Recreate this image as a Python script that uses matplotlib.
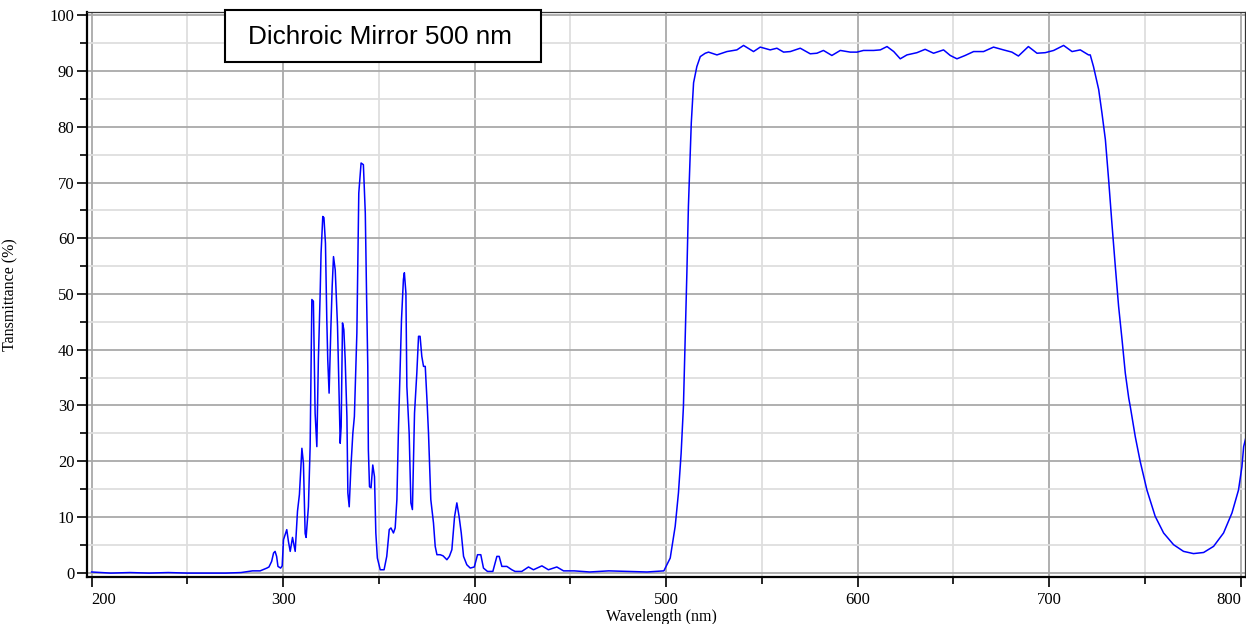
import numpy as np
import matplotlib
matplotlib.use('Agg')
import matplotlib.pyplot as plt
from matplotlib.patches import Rectangle
from matplotlib.ticker import MultipleLocator

# spectrum (wavelength nm, transmittance %)
wavelength = [200, 210, 220, 230, 240, 250, 260, 270, 278, 284, 288, 291.5, 292.6, 294, 295, 295.8,
              296.6, 297.3, 298.7, 299.5, 300.2, 301.9, 302.8, 303.7, 304.9, 306.3, 307.5, 308.5,
              309.8, 310.6, 311.5, 312, 313.2, 314.1, 315, 315.8, 316.7, 317.6, 318.4, 319.3, 319.8,
              320.7, 321.3, 322.1, 322.8, 323.3, 324, 324.9, 325.6, 326.3, 327.2, 328.4, 329.1,
              329.8, 330.3, 331, 331.7, 332.4, 333.3, 333.8, 334.5, 335.4, 336.4, 337.2, 338.5,
              339.5, 340.7, 341.9, 342.9, 343.6, 344.2, 344.5, 345.1, 345.9, 346.8, 347.7, 348.4,
              349.2, 350.7, 352.7, 354.1, 355.4, 356.3, 357.6, 358.5, 359.4, 360.2, 361.1, 361.8,
              362.8, 363.3, 364.1, 364.6, 365.8, 366.7, 367.5, 368.6, 369.8, 370.7, 371.5, 372.4,
              373.3, 374.2, 375.1, 375.9, 377.1, 378.5, 379.4, 380.3, 382, 383.5, 385.5, 386.8,
              388.1, 389.5, 390.7, 391.9, 393, 394.2, 395.9, 397.7, 399.8, 401.5, 403.2, 404.6,
              406.7, 409.5, 411.6, 412.8, 414.2, 416.8, 419.4, 421.1, 424.6, 428.1, 430.7, 435.1,
              438.5, 442.9, 446.4, 452, 460, 470, 480, 490, 498.8, 499.5, 502.1, 504.7, 506.4,
              507.8, 509, 509.9, 510.8, 511.6, 512.2, 513.1, 514.3, 516, 517.8, 520.4, 522.1,
              526.5, 531.7, 536.9, 540.4, 545.6, 549.1, 554.3, 557.8, 561.3, 564.8, 570, 575.2,
              578.7, 582.1, 586.5, 590.9, 596.1, 599.6, 603, 608.3, 611.8, 615.3, 618.8, 622.2,
              625.7, 630.9, 635.2, 639.6, 644.8, 648.3, 651.8, 656.1, 660.5, 665.7, 670.9, 676.1,
              680.5, 683.9, 689.1, 693.6, 697.9, 702.3, 707.5, 711.9, 716.2, 720.5, 721.4, 723.1,
              725.8, 727.5, 729.3, 731, 732.7, 734.5, 736.2, 738, 739.7, 741.5, 742.3, 744.9,
              747.5, 751, 755.3, 759.7, 764.9, 770.1, 775.3, 780.6, 785.8, 791, 795.4, 798.8,
              800.6, 801.5, 802.5]
transmittance = [0.1, -0.1, 0.0, -0.1, 0.0, -0.1, -0.1, -0.1, 0.0, 0.3, 0.3, 0.8, 1.0, 2.0, 3.5, 3.8,
                 2.9, 1.1, 0.8, 1.2, 5.9, 7.7, 5.5, 3.8, 6.3, 3.8, 11, 14,
                 22.3, 19.6, 7, 6.3, 11.8, 22.6, 49, 48.7, 28.6, 22.6, 38.2, 49.6, 57.3,
                 63.9, 63.7, 59.1, 45.4, 38.2, 32.2, 43.6, 51.3, 56.7, 54.3, 44.2, 34,
                 23.2, 26.2, 44.8, 43.6, 38.2, 28, 14.3, 11.8, 19, 25, 28, 43,
                 68.1, 73.5, 73.2, 64.5, 49, 37, 22, 15.4, 15.2, 19.3, 17.2, 7.1,
                 2.6, 0.5, 0.5, 2.9, 7.7, 8, 7.1, 8, 13.1, 25.6, 37, 45.4,
                 52.6, 53.8, 50.2, 33.4, 25, 12.5, 11.3, 28.6, 35.8, 42.4, 42.4, 38.8,
                 37, 37, 31, 25, 13.1, 8.9, 4.7, 3.2, 3.2, 3.0, 2.3, 2.9,
                 4.1, 10, 12.5, 10, 7.1, 2.9, 1.4, 0.8, 1.0, 3.2, 3.2, 0.8,
                 0.2, 0.2, 2.9, 2.9, 1.1, 1.1, 0.5, 0.2, 0.2, 1.0, 0.5, 1.2,
                 0.5, 1.0, 0.3, 0.3, 0.1, 0.3, 0.2, 0.1, 0.3, 0.8, 2.6, 8.3, 14.3,
                 21.4, 29.8, 41.8, 53.8, 65.7, 71.7, 80.7, 87.9, 90.8, 92.6, 93.2, 93.4,
                 92.9, 93.5, 93.8, 94.6, 93.5, 94.3, 93.8, 94.1, 93.4, 93.5, 94.1, 93.1,
                 93.2, 93.7, 92.8, 93.7, 93.4, 93.4, 93.7, 93.7, 93.8, 94.4, 93.5, 92.2,
                 92.9, 93.3, 93.9, 93.2, 93.8, 92.8, 92.2, 92.8, 93.5, 93.5, 94.3, 93.8,
                 93.4, 92.7, 94.4, 93.2, 93.3, 93.7, 94.6, 93.5, 93.8, 92.9, 92.9, 90.8,
                 86.7, 82.5, 77.7, 70.5, 62.7, 54.9, 47.8, 41.8, 35.8, 31.3, 29.8, 24.4,
                 19.9, 14.8, 10.1, 7.1, 5.0, 3.8, 3.4, 3.6, 4.7, 7.1, 10.7, 14.8,
                 19, 22.6, 24]

x_ticks = [200, 300, 400, 500, 600, 700, 800]
title_text = 'Dichroic Mirror 500 nm'
x_label = 'Wavelength (nm)'
y_label = 'Tansmittance (%)'

serif = 'Liberation Serif'


def show_data(x, y):
    fig = plt.figure(figsize=(12.46, 6.24), dpi=100)
    ax = fig.add_axes([87 / 1246, 1 - 577 / 624, (1245 - 87) / 1246, (577 - 12) / 624])

    ax.plot(x, y, color='#0000ff', lw=1.1, zorder=3)

    ax.set_xlim(197.6, 802.2)
    ax.set_ylim(-0.8, 100.6)
    ax.set_xticks(x_ticks)
    ax.xaxis.set_minor_locator(MultipleLocator(50))
    ax.yaxis.set_major_locator(MultipleLocator(10))
    ax.yaxis.set_minor_locator(MultipleLocator(5))

    ax.grid(which='major', color='#a9a9a9', lw=1.3, zorder=0)
    ax.grid(which='minor', color='#dedede', lw=1.3, zorder=0)
    ax.set_axisbelow(True)

    for side in ['left', 'bottom']:
        ax.spines[side].set_linewidth(1.6)
    for side in ['top', 'right']:
        ax.spines[side].set_linewidth(0.9)
        ax.spines[side].set_color('#333333')

    ax.tick_params(which='major', direction='out', length=7, width=1.2, pad=2,
                   labelsize=12, labelfontfamily=serif, top=False, right=False)
    ax.tick_params(which='minor', direction='out', length=5, width=1.2, top=False, right=False)
    ax.tick_params(axis='x', which='major', pad=4)

    # end labels are kept inside the frame, as in the original
    xt = ax.xaxis.get_major_ticks()
    xt[0].label1.set_horizontalalignment('left')
    xt[-1].label1.set_horizontalalignment('right')

    ax.set_xlabel(x_label, family=serif, fontsize=11.5)
    ax.set_ylabel(y_label, family=serif, fontsize=11.5)
    ax.xaxis.set_label_coords(0.496, -0.056)
    ax.yaxis.set_label_coords(-0.059, 0.5)

    # title box sits over the top spine
    fig.add_artist(Rectangle((224.5 / 1246, 1 - 61.5 / 624), 316.5 / 1246, 51.5 / 624,
                             transform=fig.transFigure, facecolor='white',
                             edgecolor='black', lw=1.5, zorder=5))
    fig.text(379.5 / 1246, 1 - 36.5 / 624, title_text, family='Liberation Sans', fontsize=18.8,
             ha='center', va='center', zorder=6)

    fig.savefig('out.png', dpi=100)


show_data(np.array(wavelength), np.array(transmittance))
